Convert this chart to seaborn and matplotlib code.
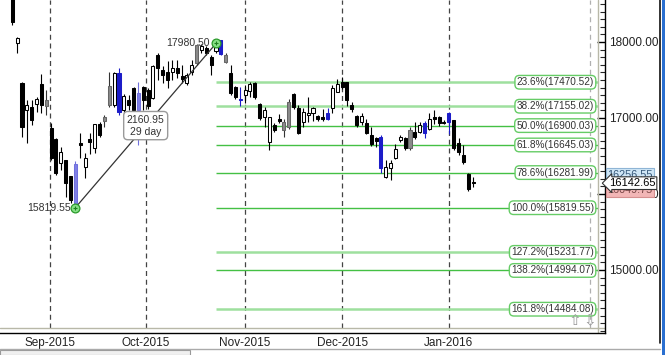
import matplotlib
matplotlib.use('Agg')
import matplotlib.pyplot as plt
import seaborn as sns
import numpy as np
import pandas as pd
from matplotlib.lines import Line2D
from matplotlib.patches import Rectangle
import matplotlib.transforms as mtransforms

# ---------------- data ----------------
opens = [18650, 17987, 17460, 17105, 17145, 17184, 17447, 17158, 16868, 16724,
         16408, 16447, 16237, 15870, 16670, 16355, 16724, 16605, 16920, 16960,
         17170, 17171, 17592, 17105, 17237, 17395, 17105, 17408, 17368, 17263,
         17829, 17632, 17605, 17605, 17658, 17553, 17460, 17605, 17724, 17895,
         17921, 17803, 17882, 18020, 17737, 17592, 17408, 17250, 17303, 17355,
         17460, 17184, 17013, 16684, 16908, 16987, 16842, 16880, 17316, 17132,
         16947, 17040, 17066, 17026, 17013, 16987, 17132, 17342, 17474, 17474,
         17171, 17026, 16947, 16934, 16776, 16737, 16750, 16224, 16342, 16473,
         16710, 16737, 16605, 16816, 16816, 16934, 16855, 17013, 17013, 16947,
         16947, 16974, 16671, 16513, 16263, 16158]
highs = [18700, 18066, 17470, 17237, 17237, 17276, 17579, 17368, 16934, 16740,
         16618, 16450, 16240, 16430, 16800, 16540, 16800, 16921, 16947, 17040,
         17600, 17605, 17658, 17316, 17303, 17408, 17474, 17421, 17395, 17700,
         17855, 17680, 17750, 17763, 17763, 17700, 17590, 17763, 17980, 17970,
         17950, 17830, 17980.5, 18030, 17855, 17697, 17420, 17408, 17434, 17474,
         17474, 17200, 17145, 17013, 16934, 17050, 16987, 17250, 17330, 17171,
         17132, 17276, 17145, 17040, 17120, 17132, 17434, 17513, 17540, 17480,
         17210, 17040, 17066, 16987, 16882, 16750, 16776, 16447, 16447, 16658,
         16776, 16750, 16882, 16947, 16947, 16960, 17066, 17105, 17026, 16974,
         17079, 16974, 16737, 16645, 16276, 16224]
lows = [18230, 17855, 16750, 16670, 16908, 17079, 17066, 17040, 16447, 16250,
        16316, 15960, 15880, 15819.55, 16473, 16210, 16526, 16540, 16750, 16880,
        17140, 17145, 17040, 17040, 17105, 17066, 16645, 17105, 17120, 17250,
        17500, 17460, 17395, 17500, 17530, 17460, 17434, 17566, 17700, 17860,
        17830, 17566, 17855, 17830, 17724, 17303, 17250, 17158, 17197, 17276,
        17250, 16974, 16880, 16579, 16815, 16934, 16750, 16855, 17120, 16790,
        16882, 16947, 16960, 16960, 16960, 16974, 17066, 17342, 17380, 17160,
        17079, 16880, 16908, 16790, 16632, 16618, 16276, 16210, 16184, 16460,
        16684, 16579, 16579, 16724, 16803, 16737, 16842, 16921, 16895, 16921,
        16790, 16579, 16513, 16395, 16040, 16092]
closes = [18263, 18053, 16880, 17171, 16974, 17250, 17171, 17237, 16473, 16276,
          16553, 16145, 15921, 16400, 16645, 16473, 16680, 16921, 16776, 17010,
          17420, 17592, 17079, 17290, 17171, 17105, 17329, 17237, 17158, 17684,
          17658, 17566, 17500, 17658, 17590, 17513, 17566, 17697, 17960, 17950,
          17855, 17697, 17934, 17842, 17829, 17329, 17276, 17237, 17368, 17447,
          17276, 17000, 17105, 17013, 16842, 16960, 16947, 17210, 17145, 16803,
          17079, 17066, 17132, 16987, 16987, 17066, 17395, 17447, 17408, 17237,
          17118, 16908, 17026, 16803, 16658, 16700, 16342, 16355, 16408, 16592,
          16750, 16605, 16842, 16750, 16908, 16803, 16987, 16987, 16934, 16934,
          17066, 16605, 16553, 16421, 16066, 16142.65]
kinds = ['black', 'white', 'black', 'white', 'black', 'white', 'black', 'gray', 'black', 'black',
         'white', 'black', 'black', 'lav', 'black', 'white', 'black', 'white', 'black', 'gray',
         'gray', 'white', 'blue', 'white', 'black', 'black', 'lav', 'black', 'black', 'white',
         'black', 'black', 'black', 'white', 'black', 'black', 'white', 'white', 'gray', 'white',
         'black', 'black', 'white', 'blue', 'gray', 'black', 'black', 'blue', 'white', 'white',
         'black', 'black', 'white', 'white', 'black', 'black', 'gray', 'gray', 'black', 'black',
         'white', 'white', 'white', 'black', 'black', 'blue', 'white', 'white', 'black', 'black',
         'black', 'black', 'white', 'black', 'black', 'black', 'blue', 'white', 'white', 'white',
         'white', 'black', 'gray', 'black', 'white', 'blue', 'white', 'black', 'black', 'black',
         'blue', 'black', 'black', 'black', 'black', 'black']

month_pos = [7.7, 27.6, 48, 68, 90]
month_labels = ['Sep-2015', 'Oct-2015', 'Nov-2015', 'Dec-2015', 'Jan-2016']
extra_tick_pos = 119.1

fib_pct = ['23.6%', '38.2%', '50.0%', '61.8%', '78.6%', '100.0%', '127.2%', '138.2%', '161.8%']
fib_val = [17470.52, 17155.02, 16900.03, 16645.03, 16281.99, 15819.55, 15231.77, 14994.07, 14484.08]
fib_light = [True, True, False, False, False, False, True, False, True]

swing_low_idx, swing_high_idx = 13, 42
swing_low, swing_high = 15819.55, 17980.50
swing_diff_label = '2160.95'
swing_days_label = '29 day'

price_high_label = 16256.55
price_last = 16142.65
price_low_label = 16049.75

# ---------------- style ----------------
sns.set_style('white')
plt.rcParams['font.family'] = ['Liberation Sans', 'DejaVu Sans']

W, H = 665, 355
fig = plt.figure(figsize=(W / 100, H / 100), dpi=100)
ax = fig.add_axes([0, (H - 333) / H, 605 / W, 333 / H])

px_step = 4.85
x0_px = 12.3
xmin = (0 - x0_px) / px_step
xmax = (605 - x0_px) / px_step
frame_x = (598 - x0_px) / px_step
vpp = 1000 / 76.0
ytop = 18000 + 42 * vpp
ybot = 18000 - (333 - 42) * vpp
frame_y = 18000 - (328 - 42) * vpp
ax.set_xlim(xmin, xmax)
ax.set_ylim(ybot, ytop)

df = pd.DataFrame({'open': opens, 'high': highs, 'low': lows, 'close': closes, 'kind': kinds})
df['idx'] = np.arange(len(df))

face = {'black': '#000000', 'white': '#ffffff', 'gray': '#8a8a8a', 'blue': '#1c1cc8', 'lav': '#8080e6'}
edge = {'black': '#000000', 'white': '#000000', 'gray': '#666666', 'blue': '#1c1cc8', 'lav': '#7070dd'}
wick = {'black': '#000000', 'white': '#000000', 'gray': '#333333', 'blue': '#1c1cc8', 'lav': '#7070dd'}

# month dashed lines
for p in month_pos:
    ax.vlines(p, frame_y, ytop, colors='#444444', linestyles=(0, (4, 3)), lw=0.9, zorder=1)
ax.vlines(extra_tick_pos, frame_y, ytop, colors='#b0b0b0', linestyles=(0, (4, 3)), lw=0.9, zorder=1)

# fib lines
for v, light in zip(fib_val, fib_light):
    ax.hlines(v, swing_high_idx, frame_x, colors='#9ee09e' if light else '#44c044',
              lw=1.8 if light else 1.0, zorder=2)

# candles
ax.vlines(df['idx'], df['low'], df['high'], colors=[wick[k] for k in df['kind']], lw=0.8, zorder=3)
body_bottom = np.minimum(df['open'], df['close'])
body_h = np.maximum(np.abs(df['close'] - df['open']), 12)
ax.bar(df['idx'], body_h, bottom=body_bottom, width=0.62,
       color=[face[k] for k in df['kind']], edgecolor=[edge[k] for k in df['kind']],
       linewidth=0.75, zorder=4)

# swing trend line
sns.lineplot(x=[swing_low_idx, swing_high_idx], y=[swing_low, swing_high], ax=ax,
             color='#333333', lw=0.9, zorder=5)
sns.scatterplot(x=[swing_low_idx, swing_high_idx], y=[swing_low, swing_high], ax=ax,
                s=40, color='#86e086', edgecolor='#2a9a2a', linewidth=0.9, zorder=6)
sns.scatterplot(x=[swing_low_idx, swing_high_idx], y=[swing_low, swing_high], ax=ax,
                s=12, marker='+', color='#1f7f1f', linewidth=0.8, zorder=7)

ax.annotate(f'{swing_low:.2f}', (swing_low_idx, swing_low), xytext=(-5, 0),
            textcoords='offset pixels', ha='right', va='center', fontsize=7.5, color='#333333')
ax.annotate(f'{swing_high:.2f}', (swing_high_idx, swing_high), xytext=(-6, 0),
            textcoords='offset pixels', ha='right', va='center', fontsize=7.5, color='#333333')
ax.text((swing_low_idx + swing_high_idx) / 2, (swing_low + swing_high) / 2,
        f'{swing_diff_label}\n{swing_days_label}', ha='center', va='center', fontsize=7.5,
        color='#333333', linespacing=1.25, zorder=8,
        bbox=dict(boxstyle='round,pad=0.3,rounding_size=0.4', fc='white', ec='#9a9a9a', lw=1))

# fib labels
for pct, v in zip(fib_pct, fib_val):
    ax.annotate(f'{pct}({v:.2f})', (frame_x, v), xytext=(-4, 0), textcoords='offset pixels',
                ha='right', va='center', fontsize=7.2, color='#333333', zorder=9,
                bbox=dict(boxstyle='round,pad=0.18,rounding_size=0.45', fc='white', ec='#66cc66', lw=1))

# frame lines
ax.axhline(frame_y, color='#b8b8a8', lw=1, zorder=2)
ax.axvline(frame_x, color='#b8b8a8', lw=1, zorder=2)

# axes, ticks
for s in ['top', 'left']:
    ax.spines[s].set_visible(False)
for s in ['right', 'bottom']:
    ax.spines[s].set_color('#000000')
    ax.spines[s].set_linewidth(1)
ax.yaxis.tick_right()
ax.set_yticks([15000, 16000, 17000, 18000])
ax.set_yticks(np.arange(14200, 18600, 100), minor=True)
ax.set_yticklabels([f'{t:.2f}' for t in [15000, 16000, 17000, 18000]])
ax.set_xticks(month_pos + [extra_tick_pos])
ax.set_xticklabels(month_labels + [''])
ax.tick_params(axis='y', which='major', direction='in', length=6, width=1, pad=3,
               labelsize=8.5, colors='#000000', labelcolor='#222222', right=True, left=False)
ax.tick_params(axis='y', which='minor', direction='in', length=3.5, width=0.8, right=True, left=False)
ax.tick_params(axis='x', which='major', direction='in', length=4, width=1, pad=3,
               labelsize=8.5, labelcolor='#222222')
ax.set_xlabel('')
ax.set_ylabel('')
ax.grid(False)
legend = ax.get_legend()
if legend:
    legend.remove()

# last-price boxes on the right axis
btrans = mtransforms.blended_transform_factory(ax.transAxes, ax.transData)
ax.text(607 / 605, price_high_label, f'{price_high_label:.2f}', transform=btrans, ha='left',
        va='center', fontsize=7.8, color='#335577', clip_on=False, zorder=10,
        bbox=dict(boxstyle='square,pad=0.12', fc='#cfe6f6', ec='#8fb5d5', lw=0.8))
ax.text(607 / 605, price_low_label, f'{price_low_label:.2f}', transform=btrans, ha='left',
        va='center', fontsize=7.8, color='#774444', clip_on=False, zorder=10,
        bbox=dict(boxstyle='square,pad=0.12', fc='#f2b6b6', ec='#d59090', lw=0.8))
ax.text(609 / 605, price_last, f'{price_last:.2f}', transform=btrans, ha='left', va='center',
        fontsize=8.0, color='#000000', clip_on=False, zorder=11,
        bbox=dict(boxstyle='larrow,pad=0.12', fc='white', ec='#333333', lw=0.8))

# small scroll arrows
ax.text((575 - x0_px) / px_step, frame_y, '⇧', ha='center', va='bottom', fontsize=11,
        color='#999999', family='DejaVu Sans', zorder=9)
ax.text((590 - x0_px) / px_step, frame_y, '⇩', ha='center', va='bottom', fontsize=11,
        color='#999999', family='DejaVu Sans', zorder=9)

# window chrome
fig.add_artist(Line2D([660 / W, 660 / W], [1 - 343 / H, 1], color='#111111', lw=1.2))
fig.add_artist(Rectangle((662 / W, 0), 3 / W, 1, color='#2a6fd0', lw=0))
fig.add_artist(Line2D([0, 660 / W], [1 - 349 / H, 1 - 349 / H], color='#aaaaaa', lw=1))
fig.add_artist(Rectangle((0, 0), 190 / W, 5 / H, fc='#f0f0f0', ec='#999999', lw=0.8))

fig.savefig('out.png', dpi=100)
